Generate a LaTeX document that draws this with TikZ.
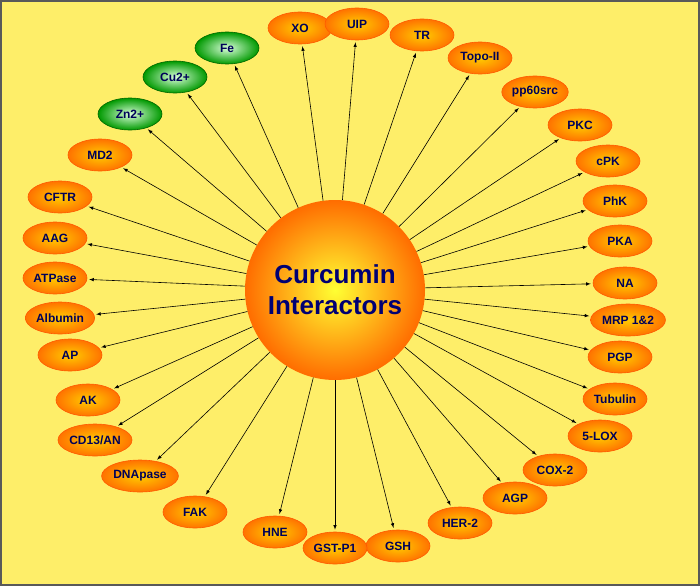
\documentclass[tikz,border=0pt]{standalone}
\usepackage{fontspec}
\setmainfont{Liberation Sans}
\usetikzlibrary{shapes.geometric}
\begin{document}
\begin{tikzpicture}[x=1pt,y=-1pt,
  lab/.style={ellipse,minimum width=64pt,minimum height=32pt,inner sep=0.5pt,draw=orange!70!red,line width=0.6pt,
    inner color=yellow!60!orange,outer color=orange!90!red,font=\bfseries\fontsize{12}{13}\selectfont,text=blue!35!black},
  grn/.style={lab,draw=green!40!black,inner color=green!15!white,outer color=green!60!black},
  arr/.style={-latex,line width=0.6pt,black}]
\fill[yellow!55!white!92!orange] (0,0) rectangle (700,586);
\draw[gray!70!black,line width=1.5pt] (1,1) rectangle (699,585);
\node[circle,minimum size=180pt,inner color=yellow!80!white,outer color=orange!85!red,
  font=\bfseries\fontsize{26}{31}\selectfont,text=blue!45!black,align=center] (c) at (335,290) {Curcumin\\Interactors};
\foreach \n/\x/\y/\t/\s in {
 a/300/28/XO/lab, b/357/24/UIP/lab, d/422/35/TR/lab, e/480/58/Topo-II/lab, f/535/92/pp60src/lab,
 g/580/125/PKC/lab, h/608/161/cPK/lab, i/615/201/PhK/lab, j/620/241/PKA/lab, k/625/283/NA/lab,
 l/628/320/MRP 1\&2/lab, m/620/357/PGP/lab, n/615/399/Tubulin/lab, o/600/436/5-LOX/lab,
 p/555/470/COX-2/lab, q/515/498/AGP/lab, r/460/523/HER-2/lab, s/398/546/GSH/lab, t/335/548/GST-P1/lab,
 u/275/532/HNE/lab, v/195/512/FAK/lab, w/140/476/DNApase/lab, x/95/440/{CD13/AN}/lab, y/88/400/AK/lab,
 z/70/355/AP/lab, aa/60/318/Albumin/lab, ab/55/278/ATPase/lab, ac/55/238/AAG/lab, ad/60/197/CFTR/lab,
 ae/100/155/MD2/lab, af/130/114/Zn2+/grn, ag/175/77/Cu2+/grn, ah/227/48/Fe/grn}
{ \node[\s] (\n) at (\x,\y) {\t};
  \draw[arr,shorten >=2pt] (c) -- (\n); }
\end{tikzpicture}
\end{document}
